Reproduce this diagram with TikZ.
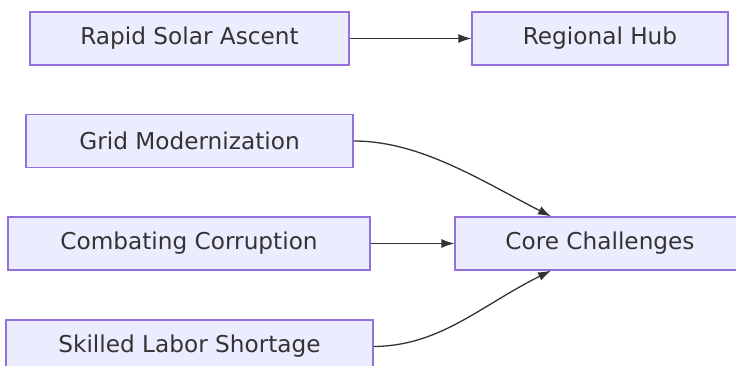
\documentclass[tikz,border=0pt]{standalone}
\usepackage{fontspec}
\setmainfont{DejaVu Sans}
\usetikzlibrary{arrows.meta}
\definecolor{boxfill}{HTML}{ECECFF}
\definecolor{boxline}{HTML}{9370DB}
\definecolor{ink}{HTML}{333333}
\begin{document}
\begin{tikzpicture}[
    x=1pt, y=-1pt,
    box/.style={draw=boxline, fill=boxfill, line width=1.2pt, minimum height=53pt,
        text=ink, font=\fontsize{23.2}{28}\selectfont, inner sep=0pt},
    link/.style={draw=ink, line width=1.3pt, -{Latex[length=13pt,width=9pt]}},
]
    \useasboundingbox (0,0) rectangle (736,366);

    % Top row
    \node[box, minimum width=319pt] (ascent) at (189.5, 38.5) {Rapid Solar Ascent};
    \node[box, minimum width=256pt] (hub) at (600, 38.5) {Regional Hub};

    % Left column
    \node[box, minimum width=327pt] (grid) at (189.5, 141) {Grid Modernization};
    \node[box, minimum width=362pt] (corrupt) at (189, 243.5) {Combating Corruption};
    \node[box, minimum width=367pt] (labor) at (189.5, 346.5) {Skilled Labor Shortage};

    % Target
    \node[box, minimum width=300pt] (core) at (605, 243.5) {\hspace*{-10pt}Core Challenges};

    % Links
    \draw[link] (ascent) -- (hub);
    \draw[link] (grid.east) .. controls (420,141) and (480,180) .. ([xshift=-54pt]core.north);
    \draw[link] (corrupt) -- (core);
    \draw[link] (labor.east) .. controls (440,346) and (480,306) .. ([xshift=-54pt]core.south);
\end{tikzpicture}
\end{document}
